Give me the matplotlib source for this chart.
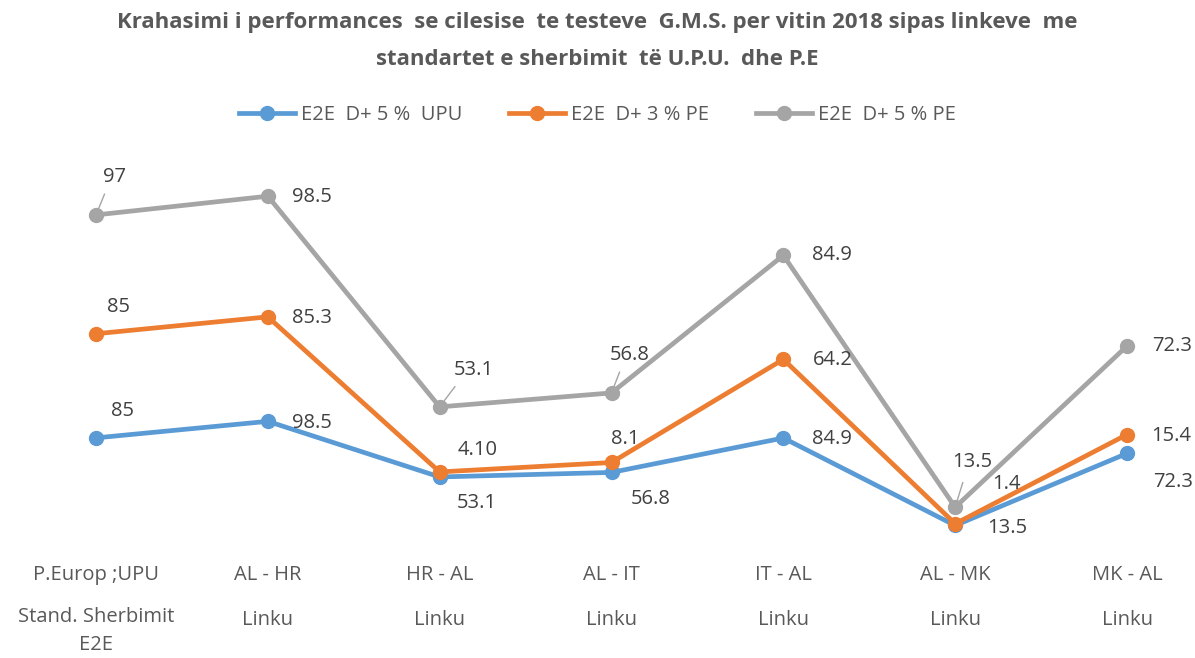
import numpy as np
import matplotlib
matplotlib.use('agg')
import matplotlib.pyplot as plt
from matplotlib.transforms import blended_transform_factory

plt.rcParams['font.family'] = ['Open Sans', 'DejaVu Sans']

# data
categories = ['P.Europ ;UPU', 'AL - HR', 'HR - AL', 'AL - IT', 'IT - AL', 'AL - MK', 'MK - AL']
groups = ['Stand. Sherbimit\nE2E', 'Linku', 'Linku', 'Linku', 'Linku', 'Linku', 'Linku']
series_names = ['E2E  D+ 5 %  UPU', 'E2E  D+ 3 % PE', 'E2E  D+ 5 % PE']
upu_5 = [85, 98.5, 53.1, 56.8, 84.9, 13.5, 72.3]
pe_3 = [85, 85.3, 4.1, 8.1, 64.2, 1.4, 15.4]
pe_5 = [97, 98.5, 53.1, 56.8, 84.9, 13.5, 72.3]
upu_5_labels = ['85', '98.5', '53.1', '56.8', '84.9', '13.5', '72.3']
pe_3_labels = ['85', '85.3', '4.10', '8.1', '64.2', '1.4', '15.4']
pe_5_labels = ['97', '98.5', '53.1', '56.8', '84.9', '13.5', '72.3']

colors = ['#5B9BD5', '#ED7D31', '#A5A5A5']
text_col = '#404040'
axis_col = '#595959'

# label offsets in pixels (dx, dy) per series
offsets = [
    [(27, 27), (44, -2), (37, -26), (39, -27), (49, -1), (52, -3), (46, -29)],
    [(22, 27), (44, -1), (38, 22), (14, 23), (49, -1), (51, 40), (44, -1)],
    [(19, 38), (44, -1), (34, 37), (18, 38), (49, 0), (17, 45), (45, 0)],
]
leaders = [set(), set(), {0, 2, 3, 5}]

fig = plt.figure(figsize=(11.95, 6.58), dpi=100)
ax = fig.add_axes([0, 1 - 542 / 658, 1, 367.5 / 658])

x = np.arange(len(categories))
stacked = np.cumsum(np.array([upu_5, pe_3, pe_5]), axis=0)
all_labels = [upu_5_labels, pe_3_labels, pe_5_labels]

for i in range(3):
    ax.plot(x, stacked[i], color=colors[i], lw=3.4, marker='o', ms=10,
            label=series_names[i], solid_joinstyle='round', zorder=3 + i)
    for j in range(len(x)):
        dx, dy = offsets[i][j]
        ax.annotate(all_labels[i][j], (x[j], stacked[i][j]), xytext=(dx, dy),
                    textcoords='offset pixels', ha='center', va='center',
                    fontsize=14.5, color=text_col, zorder=10)
        if j in leaders[i]:
            ax.annotate('', (x[j], stacked[i][j]), xytext=(dx * 0.45, dy * 0.55),
                        textcoords='offset pixels',
                        arrowprops=dict(arrowstyle='-', color='#A5A5A5', lw=1,
                                        shrinkA=0, shrinkB=3))

spacing = (1127 - 96) / 6
ax.set_xlim(-96 / spacing, 6 + 68 / spacing)
ax.set_ylim(0, 300)
ax.axis('off')

trans = blended_transform_factory(ax.transData, fig.transFigure)
for j in range(len(x)):
    ax.text(x[j], 1 - 575 / 658, categories[j], transform=trans, ha='center',
            va='center', fontsize=14.5, color=axis_col)
    if '\n' in groups[j]:
        ax.text(x[j], 1 - 607 / 658, groups[j], transform=trans, ha='center',
                va='top', fontsize=14.5, color=axis_col, linespacing=1.55)
    else:
        ax.text(x[j], 1 - 620 / 658, groups[j], transform=trans, ha='center',
                va='center', fontsize=14.5, color=axis_col)

fig.text(0.5, 1 - 41 / 658,
         'Krahasimi i performances  se cilesise  te testeve  G.M.S. per vitin 2018 sipas linkeve  me\nstandartet e sherbimit  të U.P.U.  dhe P.E',
         ha='center', va='center', fontsize=16, fontweight='bold', color=axis_col,
         linespacing=1.95)

fig.legend(loc='center', bbox_to_anchor=(0.5, 1 - 115 / 658), ncol=3, frameon=False,
           fontsize=14.5, labelcolor=axis_col, handlelength=2.8, columnspacing=2.3,
           handletextpad=0.3)

plt.savefig('out.png', dpi=100)
